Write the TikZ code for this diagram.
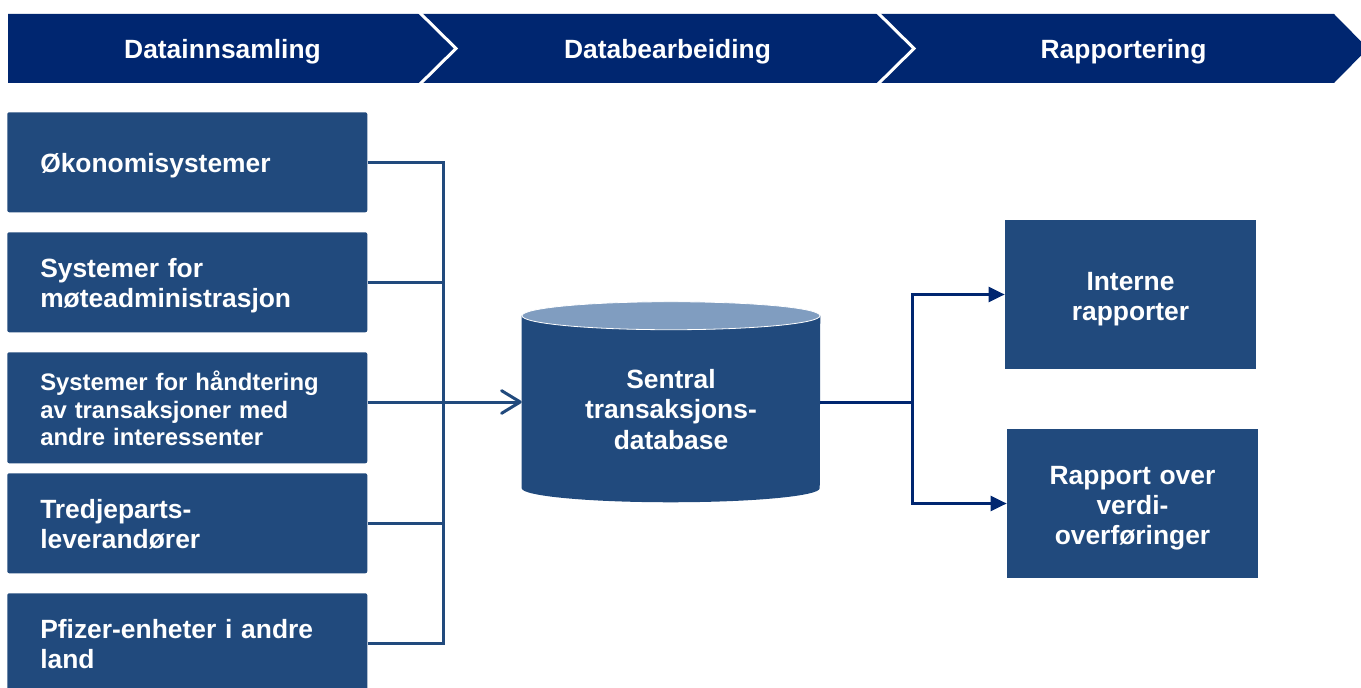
\documentclass[tikz,border=0pt]{standalone}
\usepackage{fontspec}
\setmainfont{Liberation Sans}
\usepackage{xcolor}
\usetikzlibrary{arrows.meta}

\definecolor{bannerblue}{RGB}{0,38,112}
\definecolor{boxblue}{RGB}{33,74,125}
\definecolor{capblue}{RGB}{128,157,192}

% struts that fix where the text sits in its box
\newcommand{\topstrut}[1]{\rule{0pt}{#1}}
\newcommand{\botstrut}[1]{\rule[-#1]{0pt}{#1}}

\tikzset{
  stagelabel/.style={text=white, inner sep=0pt, font=\bfseries\fontsize{19.8}{22.5}\selectfont,
    execute at begin node=\topstrut{19pt}, execute at end node=\botstrut{4.5pt}},
  srcbox/.style={fill=boxblue, rounded corners=1.5pt, anchor=north west, text width=220.5pt, inner xsep=24.75pt, inner ysep=0pt, minimum height=75pt, align=left, text=white, font=\bfseries\fontsize{19.8}{22.5}\selectfont,
    execute at begin node=\topstrut{19.5pt}, execute at end node=\botstrut{4.5pt}},
  srcsmall/.style={srcbox, minimum height=83.25pt, font=\bfseries\fontsize{17.9}{20.6}\selectfont,
    execute at begin node=\topstrut{20pt}, execute at end node=\botstrut{4pt}},
  outbox/.style={fill=boxblue, minimum width=188.25pt, minimum height=111.75pt, text width=168.25pt, inner xsep=10pt, inner ysep=0pt, align=center, text=white, font=\bfseries\fontsize{19.8}{22.5}\selectfont,
    execute at begin node=\topstrut{21pt}, execute at end node=\botstrut{4.5pt}},
  dbbody/.style={minimum width=223.5pt, minimum height=129pt, inner sep=0pt},
  dbtext/.style={align=center, text=white, inner sep=0pt, font=\bfseries\fontsize{19.8}{22.9}\selectfont},
  feed/.style={draw=boxblue, line width=2.25pt},
  outline/.style={draw=bannerblue, line width=2.25pt}
}

\begin{document}
\begin{tikzpicture}[x=0.75pt,y=0.75pt,yscale=-1,xscale=1]
    \clip (0,0) rectangle (1361,688);

    %Banner
    \fill[bannerblue] (8,14) -- (1334,14) -- (1368,48.5) -- (1334,83) -- (8,83) -- cycle;
    \draw[white, line width=2.25pt] (418,11) -- (456,48.5) -- (418,86);
    \draw[white, line width=2.25pt] (876,11) -- (914,48.5) -- (876,86);
    % Text Node
    \node[stagelabel] (stage1) at (222.5,48.5) {Datainnsamling};
    \node[stagelabel] (stage2) at (667.5,48.5) {Databearbeiding};
    \node[stagelabel] (stage3) at (1123.5,48.5) {Rapportering};

    %Source boxes
    \node[srcbox] (src1) at (7,112) {Økonomisystemer};
    \node[srcbox] (src2) at (7,232) {Systemer for\\møteadministrasjon};
    \node[srcsmall] (src3) at (7,352) {Systemer for håndtering\\av transaksjoner med\\andre interessenter};
    \node[srcbox] (src4) at (7,473) {Tredjeparts-\\leverandører};
    \node[srcbox] (src5) at (7,593) {Pfizer-enheter i andre\\land};

    %Database (cylinder)
    \node[dbbody] (db) at (671,402) {};
    \fill[boxblue] (db.north west) -- (db.south west) arc[start angle=180, end angle=0, x radius=111.75pt, y radius=10.5pt] -- (db.north east) -- cycle;
    \filldraw[fill=capblue, draw=white, line width=0.6pt] (db.north) ellipse [x radius=111.75pt, y radius=10.5pt];
    \node[dbtext] (dblabel) at (671,409.5) {Sentral\\transaksjons-\\database};

    %Reports
    \node[outbox] (rep1) at (1130.5,294.5) {Interne\\rapporter};
    \node[outbox] (rep2) at (1132.5,503.5) {Rapport over\\verdi-\\overføringer};

    %Connectors in
    \coordinate (bus) at (443,402);
    \draw[feed] (src1.east) -| (bus);
    \draw[feed] (src2.east) -| (bus);
    \draw[feed] (src3.east |- bus) -- (bus);
    \draw[feed] (src4.east) -| (bus);
    \draw[feed] (src5.east) -| (bus);
    \draw[feed, -{Straight Barb[length=14pt, width=17pt, round]}] (bus) -- (db.west);

    %Connectors out
    \coordinate (split) at (912,402);
    \draw[outline] (db.east) -- (split);
    \draw[outline, -{Triangle[length=12pt, width=11pt]}] (split) |- (rep1.west);
    \draw[outline, -{Triangle[length=12pt, width=11pt]}] (split) |- (rep2.west);

\end{tikzpicture}
\end{document}
